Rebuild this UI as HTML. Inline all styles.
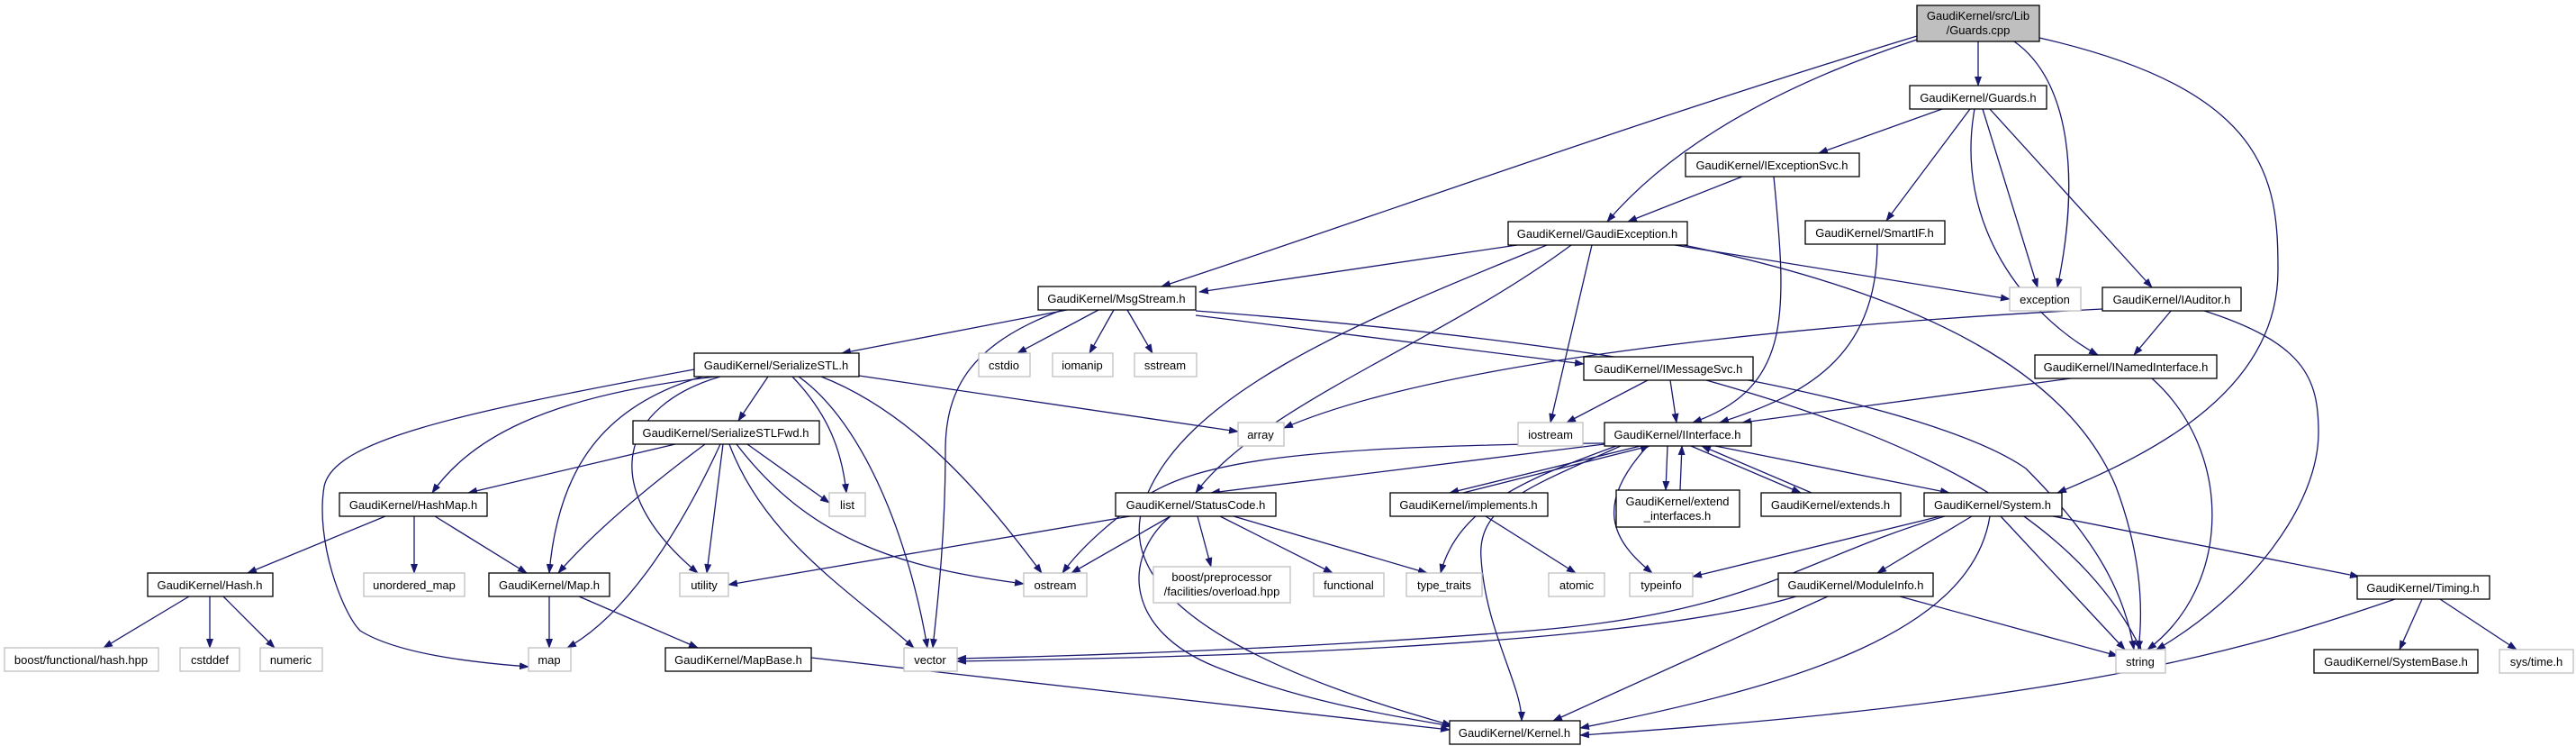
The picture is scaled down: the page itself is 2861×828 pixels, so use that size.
<!DOCTYPE html>
<html><head><meta charset="utf-8"><style>
html,body{margin:0;padding:0;background:#fff;}
svg{display:block;}
text{font-family:"Liberation Sans",Arial,sans-serif;font-size:13px;fill:#000;}
.e{fill:none;stroke:#191970;stroke-width:1.3;marker-end:url(#a);}
.n{fill:#fff;stroke:#000;stroke-width:1.3;}
.g{fill:#fff;stroke:#bfbfbf;stroke-width:1.3;}
</style></head><body>
<svg width="2861" height="828" viewBox="0 0 2861 828" xmlns="http://www.w3.org/2000/svg">
<defs><marker id="a" markerUnits="userSpaceOnUse" markerWidth="11" markerHeight="8" refX="10" refY="4" orient="auto"><path d="M0,0 L11,4 L0,8 z" fill="#191970"/></marker></defs>
<g>
<path class="e" d="M2197,46 L2197,95"/>
<path class="e" d="M2129,44 C1960,100 1850,170 1785,246"/>
<path class="e" d="M2129,40 C1800,140 1500,250 1290,318"/>
<path class="e" d="M2237,46 C2300,90 2310,200 2285,319"/>
<path class="e" d="M2265,42 C2520,100 2530,200 2530,300 C2530,430 2400,500 2285,547"/>
<path class="e" d="M2157,121 L2020,170"/>
<path class="e" d="M2188,121 L2095,245"/>
<path class="e" d="M2202,121 L2263,319"/>
<path class="e" d="M2210,121 L2390,319"/>
<path class="e" d="M2193,121 C2170,250 2250,350 2330,394"/>
<path class="e" d="M1935,196 L1808,246"/>
<path class="e" d="M1970,196 C1985,350 1990,430 1880,469"/>
<path class="e" d="M1685,272 L1332,324"/>
<path class="e" d="M1860,272 L2232,332"/>
<path class="e" d="M1870,272 C2150,330 2300,420 2350,540 C2380,620 2380,680 2375,721"/>
<path class="e" d="M1768,272 L1722,469"/>
<path class="e" d="M1745,272 C1600,380 1400,450 1328,547"/>
<path class="e" d="M1718,272 C1500,360 1310,440 1270,560 C1230,680 1450,760 1612,805"/>
<path class="e" d="M2085,270 C2085,400 2000,440 1910,469"/>
<path class="e" d="M2412,344 L2370,394"/>
<path class="e" d="M2335,343 C2000,360 1600,400 1426,475"/>
<path class="e" d="M2445,344 C2560,380 2575,420 2575,480 C2575,560 2500,660 2395,721"/>
<path class="e" d="M2300,420 L1935,469"/>
<path class="e" d="M2390,420 C2480,500 2480,650 2385,721"/>
<path class="e" d="M1185,344 L935,392"/>
<path class="e" d="M1220,344 L1130,392"/>
<path class="e" d="M1237,344 L1210,392"/>
<path class="e" d="M1252,344 L1280,392"/>
<path class="e" d="M1328,350 L1759,404"/>
<path class="e" d="M1180,344 C1080,380 1050,430 1050,500 C1050,600 1040,680 1036,719"/>
<path class="e" d="M1328,345 C1800,380 2150,450 2250,520 C2330,600 2360,660 2370,721"/>
<path class="e" d="M1830,422 L1740,469"/>
<path class="e" d="M1855,422 L1862,469"/>
<path class="e" d="M1895,422 C2100,480 2300,560 2378,721"/>
<path class="e" d="M853,418 L820,467"/>
<path class="e" d="M795,418 C600,440 520,490 480,547"/>
<path class="e" d="M780,418 C670,450 620,520 610,636"/>
<path class="e" d="M771,410 C500,460 370,490 360,540 C350,600 380,680 400,700 C440,725 520,735 587,740"/>
<path class="e" d="M800,418 C690,450 660,540 775,636"/>
<path class="e" d="M880,418 C920,460 935,500 940,547"/>
<path class="e" d="M887,418 C960,470 1010,600 1030,719"/>
<path class="e" d="M912,418 C1020,460 1100,560 1157,636"/>
<path class="e" d="M954,417 L1375,479"/>
<path class="e" d="M750,493 L520,547"/>
<path class="e" d="M830,493 L921,558"/>
<path class="e" d="M803,493 L785,636"/>
<path class="e" d="M783,493 C720,540 660,590 620,636"/>
<path class="e" d="M800,493 C760,580 700,680 630,719"/>
<path class="e" d="M810,493 C850,600 950,660 1015,719"/>
<path class="e" d="M818,493 C900,600 1000,630 1137,648"/>
<path class="e" d="M428,573 L275,636"/>
<path class="e" d="M460,573 L460,636"/>
<path class="e" d="M483,573 L585,636"/>
<path class="e" d="M210,662 L115,719"/>
<path class="e" d="M233,662 L233,719"/>
<path class="e" d="M248,662 L305,719"/>
<path class="e" d="M610,662 L610,719"/>
<path class="e" d="M643,662 L775,719"/>
<path class="e" d="M901,730 L1610,810"/>
<path class="e" d="M1790,492 L1345,547"/>
<path class="e" d="M1822,495 L1610,547"/>
<path class="e" d="M1625,547 L1832,495"/>
<path class="e" d="M1852,495 L1850,544"/>
<path class="e" d="M1866,544 L1868,495"/>
<path class="e" d="M1878,495 L2000,547"/>
<path class="e" d="M2012,547 L1890,495"/>
<path class="e" d="M1905,495 L2165,547"/>
<path class="e" d="M1782,492 C1450,495 1320,510 1260,560 C1220,590 1195,615 1180,636"/>
<path class="e" d="M1795,495 C1700,530 1620,560 1600,636"/>
<path class="e" d="M1830,495 C1770,560 1790,600 1835,636"/>
<path class="e" d="M1800,495 C1700,540 1640,560 1645,620 C1650,700 1690,760 1690,800"/>
<path class="e" d="M1650,573 L1750,636"/>
<path class="e" d="M1255,573 L809,649"/>
<path class="e" d="M1300,573 L1190,636"/>
<path class="e" d="M1330,573 L1345,629"/>
<path class="e" d="M1355,573 L1480,636"/>
<path class="e" d="M1370,573 L1585,636"/>
<path class="e" d="M1300,573 C1245,620 1250,700 1350,740 C1450,780 1550,795 1612,806"/>
<path class="e" d="M2155,573 L1880,640"/>
<path class="e" d="M2190,573 L2085,636"/>
<path class="e" d="M2280,573 L2620,640"/>
<path class="e" d="M2222,573 L2360,721"/>
<path class="e" d="M2210,573 C2190,700 2000,760 1755,808"/>
<path class="e" d="M2160,573 C2000,620 1950,680 1700,700 C1450,720 1200,728 1063,731"/>
<path class="e" d="M1995,662 C1800,720 1300,730 1063,734"/>
<path class="e" d="M2030,662 L1725,800"/>
<path class="e" d="M2110,662 L2352,728"/>
<path class="e" d="M2690,665 L2665,721"/>
<path class="e" d="M2710,665 L2795,721"/>
<path class="e" d="M2660,665 C2500,720 2300,780 1755,816"/>
</g>
<g>
<rect x="2129" y="6" width="136" height="40" fill="#bfbfbf" stroke="#000" stroke-width="1.3"/>
<text x="2197" y="22" text-anchor="middle">GaudiKernel/src/Lib</text>
<text x="2197" y="38" text-anchor="middle">/Guards.cpp</text>

<rect class="n" x="2121" y="95" width="152" height="26"/><text x="2197" y="113" text-anchor="middle">GaudiKernel/Guards.h</text>
<rect class="n" x="1872" y="170" width="193" height="26"/><text x="1968" y="188" text-anchor="middle">GaudiKernel/IExceptionSvc.h</text>
<rect class="n" x="1675" y="246" width="199" height="26"/><text x="1774" y="264" text-anchor="middle">GaudiKernel/GaudiException.h</text>
<rect class="n" x="2005" y="245" width="155" height="26"/><text x="2082" y="263" text-anchor="middle">GaudiKernel/SmartIF.h</text>
<rect class="n" x="1153" y="318" width="175" height="26"/><text x="1240" y="336" text-anchor="middle">GaudiKernel/MsgStream.h</text>
<rect class="g" x="2232" y="319" width="79" height="26"/><text x="2271" y="337" text-anchor="middle">exception</text>
<rect class="n" x="2335" y="319" width="154" height="26"/><text x="2412" y="337" text-anchor="middle">GaudiKernel/IAuditor.h</text>

<rect class="n" x="771" y="392" width="183" height="26"/><text x="862" y="410" text-anchor="middle">GaudiKernel/SerializeSTL.h</text>
<rect class="g" x="1087" y="392" width="57" height="26"/><text x="1115" y="410" text-anchor="middle">cstdio</text>
<rect class="g" x="1169" y="392" width="67" height="26"/><text x="1202" y="410" text-anchor="middle">iomanip</text>
<rect class="g" x="1260" y="392" width="69" height="26"/><text x="1294" y="410" text-anchor="middle">sstream</text>
<rect class="n" x="1759" y="396" width="188" height="26"/><text x="1853" y="414" text-anchor="middle">GaudiKernel/IMessageSvc.h</text>
<rect class="n" x="2260" y="394" width="202" height="26"/><text x="2361" y="412" text-anchor="middle">GaudiKernel/INamedInterface.h</text>

<rect class="n" x="703" y="467" width="207" height="26"/><text x="806" y="485" text-anchor="middle">GaudiKernel/SerializeSTLFwd.h</text>
<rect class="g" x="1375" y="469" width="51" height="26"/><text x="1400" y="487" text-anchor="middle">array</text>
<rect class="g" x="1686" y="469" width="72" height="26"/><text x="1722" y="487" text-anchor="middle">iostream</text>
<rect class="n" x="1782" y="469" width="163" height="26"/><text x="1863" y="487" text-anchor="middle">GaudiKernel/IInterface.h</text>

<rect class="n" x="377" y="547" width="164" height="26"/><text x="459" y="565" text-anchor="middle">GaudiKernel/HashMap.h</text>
<rect class="g" x="921" y="547" width="40" height="26"/><text x="941" y="565" text-anchor="middle">list</text>
<rect class="n" x="1239" y="547" width="178" height="26"/><text x="1328" y="565" text-anchor="middle">GaudiKernel/StatusCode.h</text>
<rect class="n" x="1544" y="547" width="175" height="26"/><text x="1631" y="565" text-anchor="middle">GaudiKernel/implements.h</text>
<rect class="n" x="1795" y="544" width="137" height="41"/><text x="1863" y="561" text-anchor="middle">GaudiKernel/extend</text><text x="1863" y="577" text-anchor="middle">_interfaces.h</text>
<rect class="n" x="1956" y="547" width="155" height="26"/><text x="2033" y="565" text-anchor="middle">GaudiKernel/extends.h</text>
<rect class="n" x="2137" y="547" width="153" height="26"/><text x="2213" y="565" text-anchor="middle">GaudiKernel/System.h</text>

<rect class="n" x="164" y="636" width="139" height="26"/><text x="233" y="654" text-anchor="middle">GaudiKernel/Hash.h</text>
<rect class="g" x="404" y="636" width="112" height="26"/><text x="460" y="654" text-anchor="middle">unordered_map</text>
<rect class="n" x="543" y="636" width="134" height="26"/><text x="610" y="654" text-anchor="middle">GaudiKernel/Map.h</text>
<rect class="g" x="755" y="636" width="54" height="26"/><text x="782" y="654" text-anchor="middle">utility</text>
<rect class="g" x="1137" y="636" width="70" height="26"/><text x="1172" y="654" text-anchor="middle">ostream</text>
<rect class="g" x="1281" y="629" width="152" height="40"/><text x="1357" y="645" text-anchor="middle">boost/preprocessor</text><text x="1357" y="661" text-anchor="middle">/facilities/overload.hpp</text>
<rect class="g" x="1459" y="636" width="78" height="26"/><text x="1498" y="654" text-anchor="middle">functional</text>
<rect class="g" x="1562" y="636" width="84" height="26"/><text x="1604" y="654" text-anchor="middle">type_traits</text>
<rect class="g" x="1720" y="636" width="62" height="26"/><text x="1751" y="654" text-anchor="middle">atomic</text>
<rect class="g" x="1810" y="636" width="70" height="26"/><text x="1845" y="654" text-anchor="middle">typeinfo</text>
<rect class="n" x="1975" y="636" width="172" height="26"/><text x="2061" y="654" text-anchor="middle">GaudiKernel/ModuleInfo.h</text>
<rect class="n" x="2618" y="639" width="147" height="26"/><text x="2691" y="657" text-anchor="middle">GaudiKernel/Timing.h</text>

<rect class="g" x="5" y="719" width="171" height="26"/><text x="90" y="737" text-anchor="middle">boost/functional/hash.hpp</text>
<rect class="g" x="200" y="719" width="66" height="26"/><text x="233" y="737" text-anchor="middle">cstddef</text>
<rect class="g" x="289" y="719" width="69" height="26"/><text x="323" y="737" text-anchor="middle">numeric</text>
<rect class="g" x="587" y="719" width="47" height="26"/><text x="610" y="737" text-anchor="middle">map</text>
<rect class="n" x="739" y="719" width="162" height="26"/><text x="820" y="737" text-anchor="middle">GaudiKernel/MapBase.h</text>
<rect class="g" x="1004" y="719" width="59" height="26"/><text x="1033" y="737" text-anchor="middle">vector</text>
<rect class="g" x="2350" y="721" width="55" height="26"/><text x="2377" y="739" text-anchor="middle">string</text>
<rect class="n" x="2570" y="721" width="182" height="26"/><text x="2661" y="739" text-anchor="middle">GaudiKernel/SystemBase.h</text>
<rect class="g" x="2776" y="721" width="82" height="26"/><text x="2817" y="739" text-anchor="middle">sys/time.h</text>

<rect class="n" x="1610" y="800" width="145" height="26"/><text x="1682" y="818" text-anchor="middle">GaudiKernel/Kernel.h</text>
</g>
</svg>
</body></html>
